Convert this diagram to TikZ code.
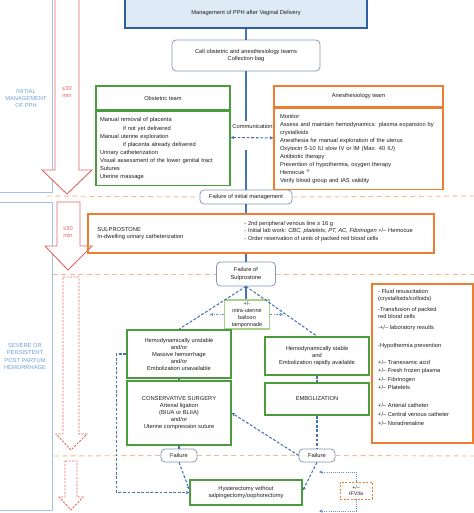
\documentclass[tikz,border=0pt]{standalone}
\usepackage{fontspec}
\setmainfont{Liberation Sans}
\usetikzlibrary{arrows.meta}
\definecolor{txtgray}{HTML}{1E1E1E}
\definecolor{topblue}{HTML}{2E5FA3}
\definecolor{topfill}{HTML}{DEEBF7}
\definecolor{roundgray}{HTML}{8497B0}
\definecolor{boxgreen}{HTML}{4A9C3C}
\definecolor{lightgreen}{HTML}{A9D18E}
\definecolor{boxorange}{HTML}{ED7D31}
\definecolor{seporange}{HTML}{F4B98C}
\definecolor{linkblue}{HTML}{4472B4}
\definecolor{arrowred}{HTML}{E06666}
\definecolor{panelblue}{HTML}{A3BFE3}
\definecolor{paneltxt}{HTML}{6F9FD6}
\begin{document}
\begin{tikzpicture}[x=0.05cm,y=-0.05cm,
  font=\fontsize{8.2}{10}\selectfont,
  every node/.style={text=txtgray},
  topbox/.style={draw=topblue,fill=topfill,line width=1.8pt},
  roundbox/.style={draw=roundgray,fill=white,rounded corners=0.2cm,line width=1.1pt,align=center,inner sep=0pt},
  greenbox/.style={draw=boxgreen,line width=2.2pt,align=center,inner sep=0pt},
  orangebox/.style={draw=boxorange,line width=2pt,align=center,inner sep=0pt},
  link/.style={draw=linkblue,line width=1.5pt},
  dashlink/.style={link,dash pattern=on 4pt off 2.5pt},
  dotlink/.style={draw=linkblue!80,line width=1.2pt,dash pattern=on 1.5pt off 1.5pt},
  dashdot/.style={draw=linkblue!80,line width=1.2pt,dash pattern=on 3pt off 2pt on 1pt off 2pt},
  tip/.style={-{Stealth[length=5pt,width=5pt]}},
  redarrow/.style={draw=arrowred,line width=1.3pt,fill=white},
  sepline/.style={draw=seporange,line width=1.3pt,dash pattern=on 7pt off 5pt},
  panel/.style={draw=panelblue,line width=1.4pt},
  paneltext/.style={text=paneltxt,align=center}]
\useasboundingbox (0,0) rectangle (474,513);

% phases on the left
\draw[panel] (-3,-3) rectangle (52,192);
\draw[panel] (-3,202) rectangle (52,510);
\node[paneltext] (initial) at (26,99) {INITIAL\\MANAGEMENT\\OF PPH};
\node[paneltext] (severe) at (25,356.5) {SEVERE OR\\PERSISTENT\\POST PARTUM\\HEMORRHAGE};

% separators
\node[roundbox,minimum width=4.6cm,minimum height=0.7cm] (failinit) at (246,197) {Failure of initial management};
\node[roundbox,minimum width=2.95cm,minimum height=1.2cm] (failsulp) at (246,274) {Failure of\\Sulprostone};
\node[roundbox,minimum width=1.8cm,minimum height=0.65cm] (failL) at (179,455.5) {Failure};
\node[roundbox,minimum width=1.8cm,minimum height=0.65cm] (failR) at (317,455.5) {Failure};
\draw[sepline] (47,196) -- (failinit.west);
\draw[sepline] (failinit.east) -- (474,196);
\draw[sepline] (53,274) -- (failsulp.west);
\draw[sepline] (failsulp.east) -- (474,274);
\draw[sepline] (54,456) -- (failL.west);
\draw[sepline] (failL.east) -- (failR.west);
\draw[sepline] (failR.east) -- (474,456);

% time arrows
\draw[redarrow] (55,-2) -- (79,-2) -- (79,170) -- (92,170) -- (67,194) -- (42,170) -- (55,170) -- cycle;
\node[text=arrowred,align=center] (time1) at (67,91.5) {≤30\\min};
\draw[redarrow] (57,202) -- (80,202) -- (80,246) -- (92,246) -- (68,270) -- (45,246) -- (57,246) -- cycle;
\node[text=arrowred,align=center] (time2) at (68,232) {≤30\\min};
\draw[redarrow,dash pattern=on 3pt off 2pt] (63,277) -- (79,277) -- (79,434) -- (87,434) -- (71,450) -- (56,434) -- (63,434) -- cycle;
\draw[redarrow,dash pattern=on 3pt off 2pt] (65,461) -- (77,461) -- (77,497) -- (83,497) -- (71,510) -- (59,497) -- (65,497) -- cycle;

% initial management
\node[topbox,minimum width=12.1cm,minimum height=1.45cm] (top) at (246,13.5) {Management of PPH after Vaginal Delivery};
\node[roundbox,minimum width=7.4cm,minimum height=1.55cm] (call) at (246,55.5) {Call obstetric and anesthesiology teams\\Collection bag};
\node[greenbox,minimum width=6.7cm,minimum height=1.2cm] (obst) at (163,98) {Obstetric team};
\node[greenbox,anchor=north,minimum height=3.7cm,text width=6.3cm,inner xsep=0.2cm,align=left,
  font=\fontsize{8.2}{11.4}\selectfont] (obstbody) at (obst.south) {Manual removal of placenta\\
  \hspace*{1.15cm}if not yet delivered\\
  Manual uterine exploration\\
  \hspace*{1.15cm}if placenta already delivered\\
  Urinary catheterization\\
  Visual assessment of the lower genital tract\\
  Sutures\\
  Uterine massage};
\node[orangebox,minimum width=8.45cm,minimum height=1.05cm] (anes) at (358.5,96.5) {Anesthesiology team};
\node[orangebox,anchor=north,minimum height=4.05cm,text width=7.85cm,inner xsep=0.3cm,align=left,
  font=\fontsize{8.2}{11.5}\selectfont] (anesbody) at (anes.south) {Monitor\\
  Assess and maintain hemodynamics: plasma expansion by\\
  crystalloids\\
  Anesthesia for manual exploration of the uterus\\
  Oxytocin 5-10 IU slow IV or IM (Max: 40 IU)\\
  Antibiotic therapy\\
  Prevention of hypothermia, oxygen therapy\\
  Hemocue \textsuperscript{®}\\
  Verify blood group and IAS validity};
\node (comm) at (252.5,126) {Communication};
\coordinate (commend) at (246,150);
\draw[link] (top.south) -- (call.north);
\draw[link] (call.south) -- (call.south |- comm.north);
\draw[link] (commend) -- (failinit.north);
\draw[dashlink,{Stealth[length=5pt,width=5pt]}-{Stealth[length=5pt,width=5pt]}]
  ([yshift=0.55cm]obstbody.east) -- ([yshift=0.55cm]anesbody.west);

% sulprostone
\node[orangebox,minimum width=17.3cm,minimum height=1.95cm] (sulpro) at (261,233.5) {};
\node[anchor=west,align=left] (sulprotxt) at (95,234) {SULPROSTONE\\In-dwelling urinary catheterization};
\node[anchor=west,align=left] (sulprolist) at (242,231.5) {- 2nd peripheral venous line ≥ 16 g\\
  - Initial lab work: \textit{CBC, platelets, PT, AC, Fibrinogen} +/– Hemocue\\
  - Order reservation of units of packed red blood cells};
\draw[link] (failinit.south) -- (failinit.south |- sulpro.north);
\draw[link] (failinit.south |- sulpro.south) -- (failsulp.north);

% severe PPH
\node[draw=lightgreen,line width=1.5pt,minimum width=2.25cm,minimum height=1.45cm,inner sep=0pt,align=center,
  font=\fontsize{7.8}{10}\selectfont] (balloon) at (247,314.5) {+/-\\intra-uterine\\balloon\\tamponnade};
\node[greenbox,minimum width=5.2cm,minimum height=2.4cm] (unstable) at (179,354) {Hemodynamically unstable\\and/or\\Massive hemorrhage\\and/or\\Embolization unavailable};
\node[greenbox,minimum width=5.2cm,minimum height=3.2cm] (conserv) at (179,413) {CONSERVATIVE SURGERY\\Arterial ligation\\(BIUA or BLIIA)\\and/or\\Uterine compression suture};
\node[greenbox,minimum width=5.2cm,minimum height=1.9cm] (stable) at (317,356) {Hemodynamically stable\\and\\Embolization rapidly available};
\node[greenbox,minimum width=5.2cm,minimum height=1.6cm] (emboli) at (317,399) {EMBOLIZATION};
\node[greenbox,minimum width=5.6cm,minimum height=1.25cm] (hyst) at (246,492.5) {Hysterectomy without\\salpingectomy/oophorectomy};
\node[orangebox,minimum width=5.05cm,minimum height=7.95cm] (support) at (422.5,363.5) {};
\node[anchor=north west,align=left,inner sep=0pt] (supporttxt) at (378,289) {- Fluid resuscitation\\
  (crystalloids/colloids)\\[5.7pt]
  -Transfusion of packed\\
  red blood cells\\[5.7pt]
  -+/– laboratory results\\[15.5pt]
  -Hypothermia prevention\\[14pt]
  +/– Tranexamic acid\\[1.5pt]
  +/– Fresh frozen plasma\\[2.5pt]
  +/– Fibrinogen\\[2.5pt]
  +/– Platelets\\[15.5pt]
  +/– Arterial catheter\\[2.5pt]
  +/– Central venous catheter\\[2.5pt]
  +/– Noradrenaline};
\node[draw=boxorange,line width=1.3pt,dash pattern=on 3pt off 2pt,minimum width=1.6cm,minimum height=0.85cm,inner sep=0pt,align=center,
  font=\fontsize{7.5}{9.5}\selectfont] (rfv) at (356,490.5) {+/–\\rFVIIa};
\coordinate (rfvtop) at (319,472);
\coordinate (rfvbot) at (319,511);

\draw[link] (failsulp.south) -- (failsulp.south |- balloon.north);
\draw[dashlink] (failsulp.south) -- (unstable.north);
\draw[dashlink] (failsulp.south) -- (stable.north);
\draw[dashdot,tip] (balloon.west) -- ++(-14,0);
\draw[dashdot,tip] (balloon.east) -- ++(13,0);
\draw[dashlink] (unstable.south) -- (conserv.north);
\draw[dashlink] (stable.south) -- (emboli.north);
\draw[dashlink,tip] (unstable.west) -- ++(-10,0) |- (hyst.west);
\draw[dashlink] (emboli.south) -- (failR.north);
\draw[dashlink,tip] (failR.west) -- (conserv.east);
\draw[dashlink] (conserv.south) -- (failL.north);
\draw[dashlink,tip] (failL.south) -- ([yshift=0.15cm]hyst.west);
\draw[dashlink,tip] (failR.south) -- ([yshift=0.1cm]hyst.east);
\draw[dotlink,tip] (rfv.north) |- (rfvtop);
\draw[dotlink,tip] (rfv.south) |- (rfvbot);
\end{tikzpicture}
\end{document}
